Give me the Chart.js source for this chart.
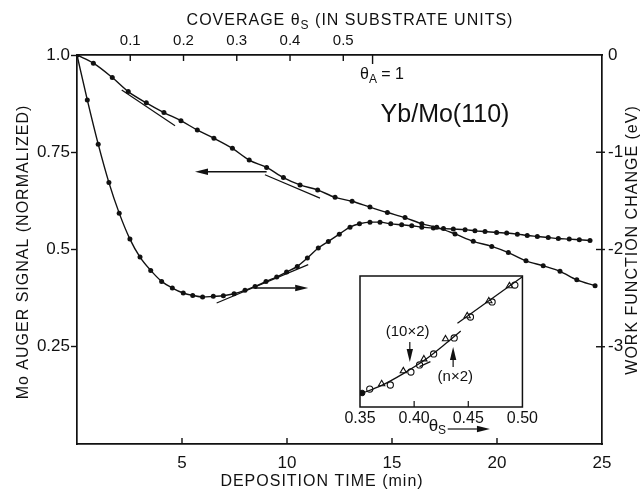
<!DOCTYPE html>
<html>
<head>
<meta charset="utf-8">
<script src="https://cdn.jsdelivr.net/npm/chart.js@4.4.0/dist/chart.umd.min.js"></script>
<style>
  html, body { margin: 0; padding: 0; background: #fff; }
  #wrap { position: relative; width: 642px; height: 494px; }
  #main { position: absolute; left: 0; top: 0; }
  #inset { position: absolute; left: 340px; top: 266px; }
</style>
</head>
<body>
<div id="wrap">
  <canvas id="main" width="642" height="494"></canvas>
  <canvas id="inset" width="200" height="178"></canvas>
</div>
<script>
// Mo Auger signal (left axis, normalized) vs deposition time (min)
const AUGER_T = [0, 0.78, 1.68, 2.44, 3.3, 4.14, 4.95, 5.73, 6.52, 7.4, 8.2, 9.03, 9.83, 10.62, 11.46, 12.29,
  13.1, 13.95, 14.78, 15.62, 16.42, 17.13, 18.0, 18.87, 19.75, 20.54, 21.38, 22.2, 23.0, 23.8, 24.67];
const AUGER_V = [1.0, 0.979, 0.942, 0.906, 0.877, 0.852, 0.831, 0.807, 0.786, 0.760, 0.730, 0.711, 0.685, 0.666, 0.653, 0.634,
  0.624, 0.609, 0.595, 0.582, 0.566, 0.557, 0.540, 0.521, 0.508, 0.492, 0.471, 0.458, 0.444, 0.422, 0.407];

// Work function change (right axis, eV) vs deposition time (min)
const WF_T = [0, 0.49, 1.01, 1.52, 2.01, 2.52, 3.0, 3.51, 4.03, 4.54, 5.06, 5.51, 5.98, 6.49, 6.97, 7.48, 8.0, 8.48,
  9.0, 9.51, 9.98, 10.49, 10.97, 11.49, 11.97, 12.49, 13.0, 13.45, 13.95, 14.43, 14.94, 15.46, 15.94, 16.42, 16.97,
  17.45, 17.92, 18.48, 18.95, 19.43, 19.98, 20.46, 20.97, 21.44, 21.92, 22.44, 22.92, 23.44, 23.92, 24.43];
const WF_EV = [0, -0.462, -0.917, -1.312, -1.626, -1.893, -2.078, -2.215, -2.328, -2.396, -2.447, -2.472, -2.488,
  -2.482, -2.475, -2.455, -2.42, -2.38, -2.328, -2.283, -2.232, -2.174, -2.088, -1.985, -1.917, -1.842, -1.77,
  -1.735, -1.719, -1.719, -1.736, -1.746, -1.756, -1.77, -1.78, -1.785, -1.79, -1.796, -1.808, -1.815, -1.825,
  -1.831, -1.842, -1.856, -1.866, -1.877, -1.887, -1.893, -1.9, -1.907];

// straight tangent lines drawn at the break points
const AUGER_TAN1_T = [2.13, 4.67];
const AUGER_TAN1_V = [0.910, 0.818];
const AUGER_TAN2_T = [8.95, 11.57];
const AUGER_TAN2_V = [0.692, 0.632];
const WF_TAN1_T = [6.65, 11.01];
const WF_TAN1_EV = [-2.55, -2.156];

// arrows telling which axis each curve belongs to
const AUGER_ARROW_T = [9.03, 5.62];
const AUGER_ARROW_V = 0.700;
const WF_ARROW_T = [8.48, 11.01];
const WF_ARROW_EV = -2.396;

// axes
const X_TICKS = [5, 10, 15, 20, 25];
const X_LABELS = ['5', '10', '15', '20', '25'];
const X2_MAX = 0.9858;               // coverage at 25 min
const X2_TICKS = [0.1, 0.2, 0.3, 0.4, 0.5, 0.555];
const X2_LABELS = ['0.1', '0.2', '0.3', '0.4', '0.5', ''];
const Y_TICKS = [0.25, 0.5, 0.75, 1.0];
const Y_LABELS = ['0.25', '0.5', '0.75', '1.0'];
const Y2_TICKS = [-3, -2, -1, 0];
const Y2_LABELS = ['-3', '-2', '-1', '0'];

// inset: work function vs coverage theta_s (arbitrary units)
const INSET_TRI_X = [0.370, 0.390, 0.409, 0.429, 0.449, 0.469, 0.488];
const INSET_TRI_Y = [0.176, 0.275, 0.366, 0.519, 0.695, 0.809, 0.924];
const INSET_CIR_X = [0.359, 0.378, 0.397, 0.405, 0.418, 0.437, 0.452, 0.472, 0.493];
const INSET_CIR_Y = [0.137, 0.168, 0.267, 0.321, 0.405, 0.527, 0.687, 0.802, 0.931];
const INSET_DOT_X = [0.352];
const INSET_DOT_Y = [0.107];
const INSET_FIT1_X = [0.35, 0.37, 0.39, 0.41, 0.43, 0.443];
const INSET_FIT1_Y = [0.099, 0.165, 0.255, 0.36, 0.49, 0.58];
const INSET_FIT2_X = [0.44, 0.50];
const INSET_FIT2_Y = [0.639, 0.995];
const INSET_DASH_X = [0.405, 0.415];
const INSET_DASH_Y = [0.308, 0.346];
const INSET_TICKS = [0.35, 0.40, 0.45, 0.50];
const INSET_LABELS = ['0.35', '0.40', '0.45', '0.50'];

const INK = '#111';
const FAMILY = "'Liberation Sans', Arial, sans-serif";

function pts(xs, ys) {
  return xs.map((x, i) => ({ x, y: ys[i] }));
}

function line(ctx, x1, y1, x2, y2) {
  ctx.beginPath();
  ctx.moveTo(x1, y1);
  ctx.lineTo(x2, y2);
  ctx.stroke();
}

// line with a filled narrow head at (x2, y2)
function arrow(ctx, x1, y1, x2, y2) {
  const ang = Math.atan2(y2 - y1, x2 - x1);
  const len = 13, half = 3.2;
  const bx = x2 - len * Math.cos(ang), by = y2 - len * Math.sin(ang);
  line(ctx, x1, y1, bx, by);
  ctx.beginPath();
  ctx.moveTo(x2, y2);
  ctx.lineTo(bx + half * Math.sin(ang), by - half * Math.cos(ang));
  ctx.lineTo(bx - half * Math.sin(ang), by + half * Math.cos(ang));
  ctx.closePath();
  ctx.fill();
}

// text made of parts, some of them subscripts
function richText(ctx, parts, x, y, size, align) {
  const big = size + 'px ' + FAMILY, small = Math.round(size * 0.72) + 'px ' + FAMILY;
  let total = 0;
  parts.forEach(p => { ctx.font = p.sub ? small : big; total += ctx.measureText(p.t).width; });
  let cx = align === 'left' ? x : align === 'right' ? x - total : x - total / 2;
  ctx.textAlign = 'left';
  ctx.textBaseline = 'middle';
  parts.forEach(p => {
    ctx.font = p.sub ? small : big;
    ctx.fillText(p.t, cx, p.sub ? y + size * 0.3 : y);
    cx += ctx.measureText(p.t).width;
  });
}

function text(ctx, s, x, y, size, rot) {
  ctx.save();
  ctx.translate(x, y);
  if (rot) ctx.rotate(rot);
  ctx.font = size + 'px ' + FAMILY;
  ctx.textAlign = 'center';
  ctx.textBaseline = 'middle';
  ctx.fillText(s, 0, 0);
  ctx.restore();
}

const mainDecor = {
  id: 'mainDecor',
  afterDraw(chart) {
    const { ctx, chartArea: a } = chart;
    const { x, x2, y, y2 } = chart.scales;
    ctx.save();
    ctx.strokeStyle = INK;
    ctx.fillStyle = INK;
    ctx.lineWidth = 1.4;
    // inward tick marks
    X_TICKS.forEach(v => {
      if (v >= 25) return;
      const px = x.getPixelForValue(v);
      line(ctx, px, a.bottom, px, a.bottom - 6);
    });
    X2_TICKS.forEach((v, i) => {
      const px = x2.getPixelForValue(v);
      line(ctx, px, a.top, px, a.top + (X2_LABELS[i] ? 6 : 9));
    });
    Y2_TICKS.forEach(v => {
      if (v >= 0) return;
      const py = y2.getPixelForValue(v);
      line(ctx, a.right - 6, py, a.right + 3, py);
    });
    // axis arrows
    const ay = y.getPixelForValue(AUGER_ARROW_V);
    arrow(ctx, x.getPixelForValue(AUGER_ARROW_T[0]), ay, x.getPixelForValue(AUGER_ARROW_T[1]), ay);
    const wy = y2.getPixelForValue(WF_ARROW_EV);
    arrow(ctx, x.getPixelForValue(WF_ARROW_T[0]), wy, x.getPixelForValue(WF_ARROW_T[1]), wy);
    // titles and labels
    ctx.letterSpacing = '1px';
    text(ctx, 'Mo AUGER SIGNAL (NORMALIZED)', 24, 252, 16, -Math.PI / 2);
    text(ctx, 'WORK FUNCTION CHANGE (eV)', 633, 240, 16, -Math.PI / 2);
    text(ctx, 'DEPOSITION TIME (min)', 322, 482, 16);
    richText(ctx, [{ t: 'COVERAGE θ' }, { t: 'S', sub: true }, { t: ' (IN SUBSTRATE UNITS)' }], 350, 21, 16, 'center');
    ctx.letterSpacing = '0px';
    richText(ctx, [{ t: 'θ' }, { t: 'A', sub: true }, { t: ' = 1' }], 382, 75, 16, 'center');
    text(ctx, 'Yb/Mo(110)', 445, 115, 25);
    ctx.restore();
  }
};

function fixedSize(prop, val) {
  return s => { s[prop] = val; };
}

const tickFont = size => ({ family: FAMILY, size });

new Chart(document.getElementById('main'), {
  type: 'line',
  data: {
    datasets: [
      {
        data: pts(AUGER_T, AUGER_V), xAxisID: 'x', yAxisID: 'y',
        borderColor: INK, borderWidth: 1.4, pointRadius: 2.5, pointBackgroundColor: INK,
        pointBorderWidth: 0, cubicInterpolationMode: 'monotone'
      },
      {
        data: pts(WF_T, WF_EV), xAxisID: 'x', yAxisID: 'y2',
        borderColor: INK, borderWidth: 1.4, pointRadius: 2.5, pointBackgroundColor: INK,
        pointBorderWidth: 0, cubicInterpolationMode: 'monotone'
      },
      { data: pts(AUGER_TAN1_T, AUGER_TAN1_V), xAxisID: 'x', yAxisID: 'y', borderColor: INK, borderWidth: 1.2, pointRadius: 0 },
      { data: pts(AUGER_TAN2_T, AUGER_TAN2_V), xAxisID: 'x', yAxisID: 'y', borderColor: INK, borderWidth: 1.2, pointRadius: 0 },
      { data: pts(WF_TAN1_T, WF_TAN1_EV), xAxisID: 'x', yAxisID: 'y2', borderColor: INK, borderWidth: 1.2, pointRadius: 0 }
    ]
  },
  options: {
    responsive: false,
    animation: false,
    events: [],
    layout: { padding: 0 },
    plugins: { legend: { display: false }, tooltip: { enabled: false } },
    scales: {
      x: {
        type: 'linear', position: 'bottom', min: 0, max: 25,
        afterFit: fixedSize('height', 50),
        afterBuildTicks: s => { s.ticks = X_TICKS.map(v => ({ value: v })); },
        ticks: { font: tickFont(17), color: INK, padding: 9, maxRotation: 0, autoSkip: false,
          callback: (v, i) => X_LABELS[i] },
        grid: { drawOnChartArea: false, drawTicks: false },
        border: { color: INK, width: 1.7 }
      },
      x2: {
        type: 'linear', position: 'top', min: 0, max: X2_MAX,
        afterFit: fixedSize('height', 55),
        afterBuildTicks: s => { s.ticks = X2_TICKS.map(v => ({ value: v })); },
        ticks: { font: tickFont(15), color: INK, padding: 5, maxRotation: 0, autoSkip: false,
          callback: (v, i) => X2_LABELS[i] },
        grid: { drawOnChartArea: false, drawTicks: false },
        border: { color: INK, width: 1.7 }
      },
      y: {
        type: 'linear', position: 'left', min: 0, max: 1,
        afterFit: fixedSize('width', 77),
        afterBuildTicks: s => { s.ticks = Y_TICKS.map(v => ({ value: v })); },
        ticks: { font: tickFont(17), color: INK, padding: 1, autoSkip: false,
          callback: (v, i) => Y_LABELS[i] },
        grid: { drawOnChartArea: false, drawTicks: true, tickLength: 6, tickColor: INK, tickWidth: 1.4 },
        border: { color: INK, width: 1.7 }
      },
      y2: {
        type: 'linear', position: 'right', min: -4, max: 0,
        afterFit: fixedSize('width', 40),
        afterBuildTicks: s => { s.ticks = Y2_TICKS.map(v => ({ value: v })); },
        ticks: { font: tickFont(17), color: INK, padding: 6, autoSkip: false,
          callback: (v, i) => Y2_LABELS[i] },
        grid: { drawOnChartArea: false, drawTicks: false },
        border: { color: INK, width: 1.7 }
      }
    }
  },
  plugins: [mainDecor]
});

const insetDecor = {
  id: 'insetDecor',
  beforeDraw(chart) {
    const { ctx, chartArea: a } = chart;
    ctx.save();
    ctx.fillStyle = '#fff';
    ctx.fillRect(a.left, a.top, a.right - a.left, a.bottom - a.top);
    ctx.restore();
  },
  afterDraw(chart) {
    const { ctx, chartArea: a } = chart;
    const { x, y } = chart.scales;
    ctx.save();
    ctx.strokeStyle = INK;
    ctx.fillStyle = INK;
    ctx.lineWidth = 1.5;
    ctx.strokeRect(a.left, a.top, a.right - a.left, a.bottom - a.top);
    ctx.lineWidth = 1.2;
    INSET_TICKS.slice(1, -1).forEach(v => {
      const px = x.getPixelForValue(v);
      line(ctx, px, a.bottom, px, a.bottom - 6);
    });
    // theta_s label with arrow under the axis
    const ly = a.bottom + 22;
    richText(ctx, [{ t: 'θ' }, { t: 'S', sub: true }], x.getPixelForValue(0.4295), ly - 3, 17, 'right');
    arrow(ctx, x.getPixelForValue(0.431), ly, x.getPixelForValue(0.470), ly);
    // structure markers
    text(ctx, '(10×2)', x.getPixelForValue(0.394), y.getPixelForValue(0.575), 15);
    arrow(ctx, x.getPixelForValue(0.396), y.getPixelForValue(0.496), x.getPixelForValue(0.396), y.getPixelForValue(0.344));
    text(ctx, '(n×2)', x.getPixelForValue(0.438), y.getPixelForValue(0.231), 15);
    arrow(ctx, x.getPixelForValue(0.436), y.getPixelForValue(0.305), x.getPixelForValue(0.436), y.getPixelForValue(0.458));
    ctx.restore();
  }
};

new Chart(document.getElementById('inset'), {
  type: 'line',
  data: {
    datasets: [
      { data: pts(INSET_FIT1_X, INSET_FIT1_Y), borderColor: INK, borderWidth: 1.3, pointRadius: 0, cubicInterpolationMode: 'monotone' },
      { data: pts(INSET_FIT2_X, INSET_FIT2_Y), borderColor: INK, borderWidth: 1.3, pointRadius: 0 },
      { data: pts(INSET_DASH_X, INSET_DASH_Y), borderColor: INK, borderWidth: 1.3, pointRadius: 0 },
      {
        data: pts(INSET_TRI_X, INSET_TRI_Y), showLine: false, pointStyle: 'triangle', pointRadius: 3.6,
        pointBackgroundColor: '#fff', pointBorderColor: INK, pointBorderWidth: 1.1
      },
      {
        data: pts(INSET_CIR_X, INSET_CIR_Y), showLine: false, pointStyle: 'circle', pointRadius: 3.1,
        pointBackgroundColor: '#fff', pointBorderColor: INK, pointBorderWidth: 1.1
      },
      {
        data: pts(INSET_DOT_X, INSET_DOT_Y), showLine: false, pointStyle: 'circle', pointRadius: 2.8,
        pointBackgroundColor: INK, pointBorderColor: INK, pointBorderWidth: 1
      }
    ]
  },
  options: {
    responsive: false,
    animation: false,
    events: [],
    layout: { padding: { left: 20, right: 11, top: 10, bottom: 0 } },
    plugins: { legend: { display: false }, tooltip: { enabled: false } },
    scales: {
      x: {
        type: 'linear', min: 0.35, max: 0.50,
        afterFit: fixedSize('height', 37),
        afterBuildTicks: s => { s.ticks = INSET_TICKS.map(v => ({ value: v })); },
        ticks: { font: tickFont(16), color: INK, padding: 2, maxRotation: 0, autoSkip: false,
          callback: (v, i) => INSET_LABELS[i] },
        grid: { drawOnChartArea: false, drawTicks: false },
        border: { display: false }
      },
      y: { type: 'linear', min: 0, max: 1, display: false }
    }
  },
  plugins: [insetDecor]
});
</script>
</body>
</html>
